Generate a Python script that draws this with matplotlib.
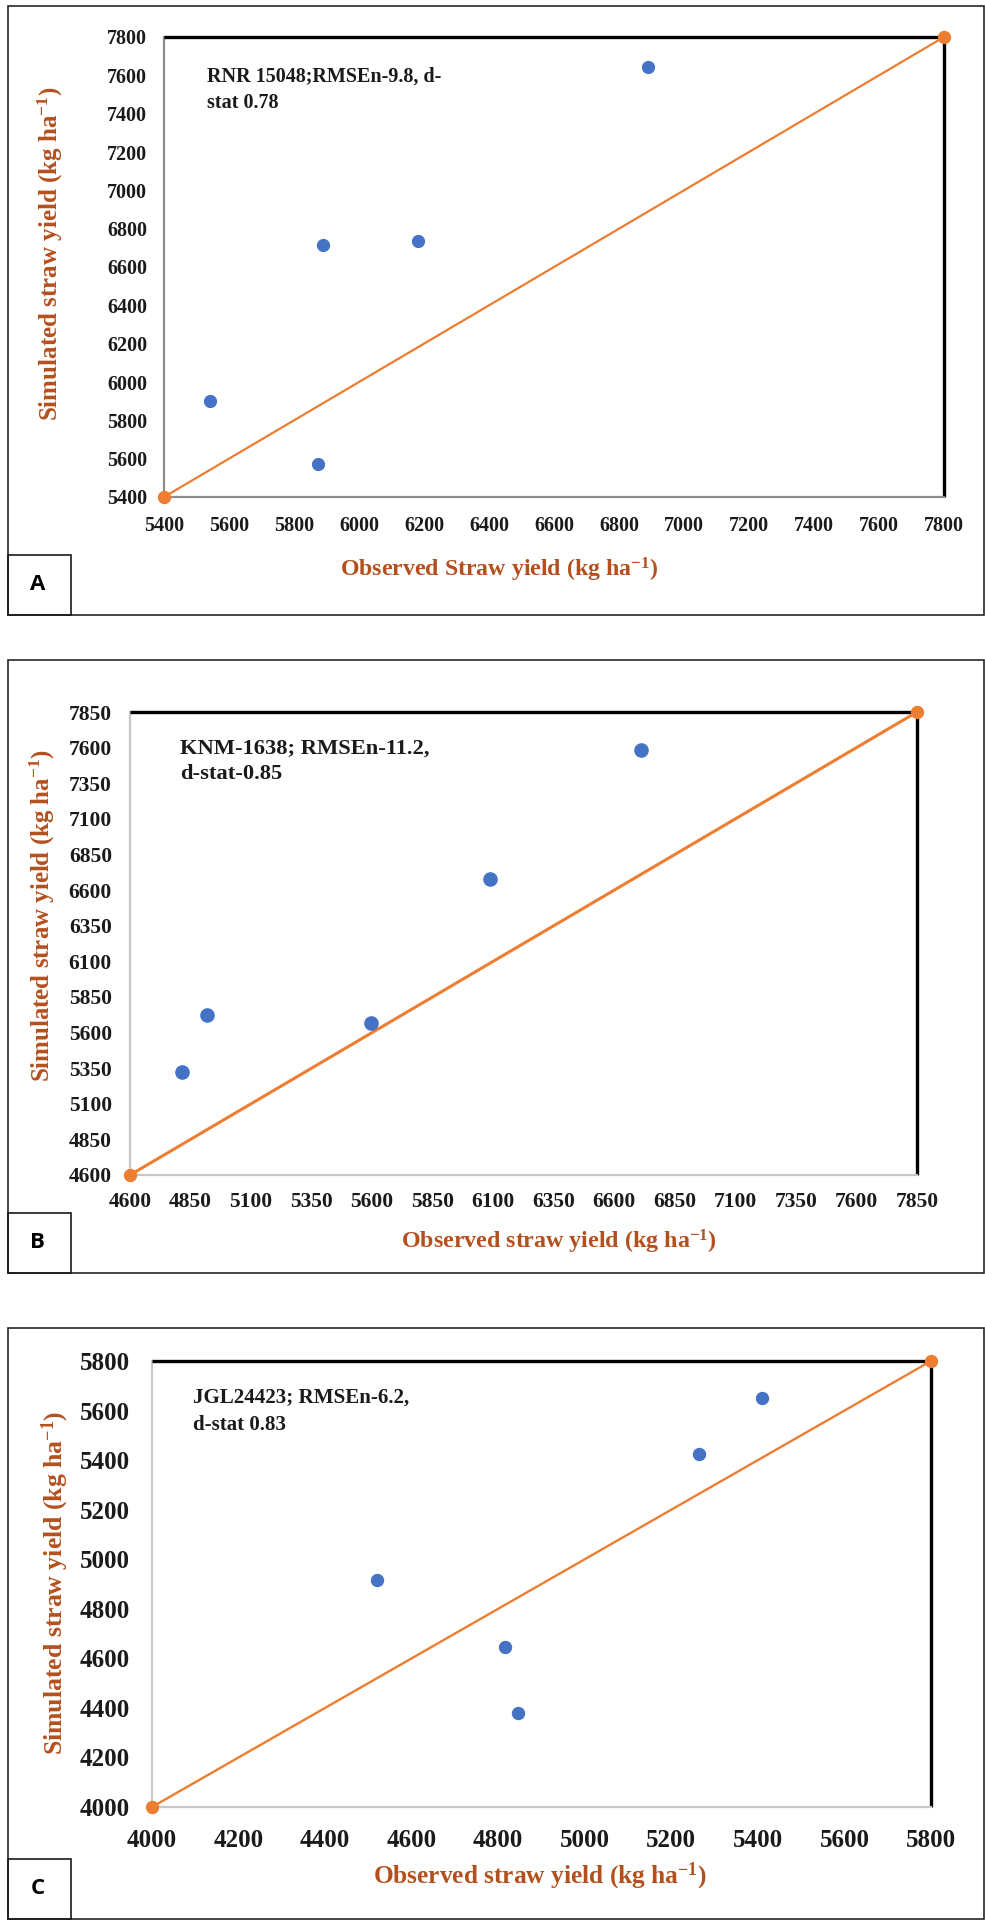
import matplotlib
matplotlib.use("Agg")
import matplotlib.pyplot as plt
from matplotlib.patches import Rectangle

# ---------------- data ----------------
obs_A = [6890, 5890, 6180, 5540, 5875]
sim_A = [7645, 6715, 6735, 5900, 5570]
one_A = [5400, 7800]
ticks_A = list(range(5400, 7801, 200))

obs_B = [6710, 6085, 4920, 5595, 4815]
sim_B = [7580, 6680, 5720, 5665, 5325]
one_B = [4600, 7850]
ticks_B = list(range(4600, 7851, 250))

obs_C = [5410, 5265, 4520, 4815, 4845]
sim_C = [5650, 5425, 4915, 4645, 4380]
one_C = [4000, 5800]
ticks_C = list(range(4000, 5801, 200))

note_A = ["RNR 15048;RMSEn-9.8, d-", "stat 0.78"]
note_B = ["KNM-1638; RMSEn-11.2,", "d-stat-0.85"]
note_C = ["JGL24423; RMSEn-6.2,", "d-stat 0.83"]

xlab_A = r"Observed Straw yield (kg ha$^{\mathbf{-1}}$)"
xlab_B = r"Observed straw yield (kg ha$^{\mathbf{-1}}$)"
xlab_C = r"Observed straw yield (kg ha$^{\mathbf{-1}}$)"
ylab = r"Simulated straw yield (kg ha$^{\mathbf{-1}}$)"
panel_letters = ["A", "B", "C"]

# ---------------- style ----------------
SERIF = ["Liberation Serif", "DejaVu Serif"]
plt.rcParams["font.family"] = SERIF
plt.rcParams["font.weight"] = "bold"
plt.rcParams["mathtext.fontset"] = "custom"
plt.rcParams["mathtext.rm"] = "Liberation Serif:bold"
plt.rcParams["mathtext.bf"] = "Liberation Serif:bold"
plt.rcParams["mathtext.it"] = "Liberation Serif:bold:italic"

W, H, DPI = 985, 1921, 100
BLUE = "#4472C4"
ORANGE = "#ED7D31"
LABC = "#B4501E"

fig = plt.figure(figsize=(W / DPI, H / DPI), dpi=DPI)
fig.patch.set_facecolor("white")


def fx(x):
    return x / W


def fy(y):
    return 1 - y / H


renderer = fig.canvas.get_renderer()


def fit(t, target, vertical=False):
    ext = t.get_window_extent(renderer)
    cur = ext.height if vertical else ext.width
    t.set_fontsize(t.get_fontsize() * target / cur)


panels = [
    dict(obs=obs_A, sim=sim_A, one=one_A, ticks=ticks_A, note=note_A, xlab=xlab_A,
         box=(164, 944, 37, 497), frame=(8, 984, 6, 615), lbox=(8, 71, 555, 615),
         fs=14.5, pad=(14, 12), left_c="#8C8C8C", ms=8.5, lw=1.6,
         notexy=(207, 81.7, 108.3), notew=236,
         xl=(499, 570, 319), yl=(50, 254, 335)),
    dict(obs=obs_B, sim=sim_B, one=one_B, ticks=ticks_B, note=note_B, xlab=xlab_B,
         box=(130, 917, 712, 1175), frame=(8, 984, 660, 1273), lbox=(8, 71, 1213, 1273),
         fs=15.5, pad=(12, 13), left_c="#C8C8C8", ms=9.5, lw=2.2,
         notexy=(180, 754, 779), notew=251,
         xl=(559, 1242, 317), yl=(42, 916, 333)),
    dict(obs=obs_C, sim=sim_C, one=one_C, ticks=ticks_C, note=note_C, xlab=xlab_C,
         box=(152, 931, 1361, 1807), frame=(8, 984, 1328, 1919), lbox=(8, 71, 1859, 1919),
         fs=18, pad=(16, 16), left_c="#C8C8C8", ms=8.6, lw=1.7,
         notexy=(193, 1403, 1430), notew=218,
         xl=(540, 1876, 335), yl=(55, 1583, 345)),
]

for p, letter in zip(panels, panel_letters):
    # outer frame
    x0, x1, y0, y1 = p["frame"]
    fig.add_artist(Rectangle((fx(x0), fy(y1)), fx(x1 - x0), (y1 - y0) / H,
                             transform=fig.transFigure, fill=False,
                             edgecolor="#262626", lw=1.2))
    lx0, lx1, ly0, ly1 = p["lbox"]
    fig.add_artist(Rectangle((fx(lx0), fy(ly1)), fx(lx1 - lx0), (ly1 - ly0) / H,
                             transform=fig.transFigure, fill=False,
                             edgecolor="#1a1a1a", lw=1.2))
    fig.text(fx((lx0 + lx1) / 2 - 2), fy((ly0 + ly1) / 2 - 1), letter,
             family=["Open Sans", "DejaVu Sans"], weight="bold", fontsize=16,
             ha="center", va="center", color="black")

    bx0, bx1, by0, by1 = p["box"]
    ax = fig.add_axes([fx(bx0), fy(by1), fx(bx1 - bx0), (by1 - by0) / H])
    ax.set_facecolor("white")
    lo, hi = p["one"]
    ax.set_xlim(lo, hi)
    ax.set_ylim(lo, hi)
    ax.set_xticks(p["ticks"])
    ax.set_yticks(p["ticks"])
    ax.set_xticklabels([str(v) for v in p["ticks"]], family=SERIF, weight="bold",
                       fontsize=p["fs"], color="#1a1a1a")
    ax.set_yticklabels([str(v) for v in p["ticks"]], family=SERIF, weight="bold",
                       fontsize=p["fs"], color="#1a1a1a")
    ax.tick_params(axis="both", length=0)
    ax.tick_params(axis="x", pad=p["pad"][0])
    ax.tick_params(axis="y", pad=p["pad"][1])
    for s in ("top", "right"):
        ax.spines[s].set_color("black")
        ax.spines[s].set_linewidth(2.4)
        ax.spines[s].set_zorder(1)
        ax.spines[s].set_capstyle("butt")
    for s in ("bottom", "left"):
        ax.spines[s].set_color(p["left_c"])
        ax.spines[s].set_linewidth(1.6)
        ax.spines[s].set_zorder(1)

    ax.plot(p["one"], p["one"], color=ORANGE, lw=p["lw"], marker="o",
            ms=8.6, mec=ORANGE, mfc=ORANGE, clip_on=False, zorder=4)
    ax.plot(p["obs"], p["sim"], linestyle="none", marker="o", ms=p["ms"],
            mfc=BLUE, mec=BLUE, clip_on=False, zorder=5)

    # annotation
    nx, ny1, ny2 = p["notexy"]
    t1 = fig.text(fx(nx), fy(ny1), p["note"][0], fontsize=14, weight="bold",
                  family=SERIF, color="#1a1a1a", ha="left", va="baseline")
    fit(t1, p["notew"])
    fig.text(fx(nx), fy(ny2), p["note"][1], fontsize=t1.get_fontsize(), weight="bold",
             family=SERIF, color="#1a1a1a", ha="left", va="baseline")

    # axis labels
    xx, xy, xw = p["xl"]
    tx = fig.text(fx(xx), fy(xy), p["xlab"], fontsize=16, weight="bold", color=LABC,
                  family=SERIF, ha="center", va="center")
    fit(tx, xw)
    yx, yy, yh = p["yl"]
    ty = fig.text(fx(yx), fy(yy), ylab, fontsize=16, weight="bold", color=LABC,
                  family=SERIF, ha="center", va="center", rotation=90)
    fit(ty, yh, vertical=True)

fig.savefig("out.png", dpi=DPI, facecolor="white")
